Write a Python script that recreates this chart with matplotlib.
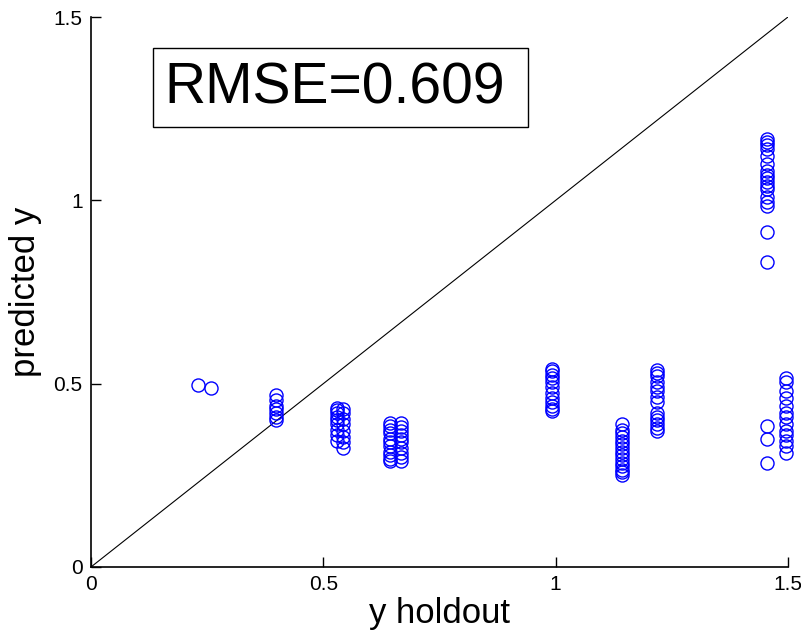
#!/usr/bin/env python3
"""Holdout scatter: predicted y vs y holdout, with identity line and RMSE box."""

import matplotlib

matplotlib.use("Agg")
import matplotlib.pyplot as plt
from matplotlib.patches import Rectangle

plt.rcParams["font.family"] = ["Liberation Sans", "DejaVu Sans"]

# holdout groups: (x value, predicted values)
x_group = [0.230, 0.258, 0.398, 0.530, 0.543, 0.643, 0.667,
           0.992, 1.143, 1.218, 1.455, 1.455, 1.496]
y_group = [
    [0.497],
    [0.489],
    [0.468, 0.455, 0.440, 0.430, 0.420, 0.410, 0.400],
    [0.435, 0.428, 0.420, 0.410, 0.400, 0.390, 0.375, 0.360, 0.345],
    [0.430, 0.420, 0.405, 0.390, 0.370, 0.355, 0.340, 0.325],
    [0.393, 0.385, 0.375, 0.365, 0.350, 0.340, 0.330, 0.315, 0.305, 0.295, 0.288],
    [0.393, 0.383, 0.370, 0.360, 0.350, 0.340, 0.325, 0.310, 0.300, 0.290],
    [0.540, 0.535, 0.525, 0.515, 0.505, 0.490, 0.475, 0.460, 0.450, 0.440, 0.430, 0.425],
    [0.390, 0.375, 0.365, 0.355, 0.345, 0.335, 0.325, 0.315, 0.305, 0.295,
     0.285, 0.275, 0.265, 0.258, 0.252],
    [0.538, 0.530, 0.520, 0.505, 0.490, 0.480, 0.465, 0.450, 0.420, 0.410,
     0.400, 0.390, 0.380, 0.372],
    [0.385, 0.350, 0.284],
    [1.167, 1.160, 1.150, 1.140, 1.120, 1.100, 1.080, 1.070, 1.060, 1.050,
     1.040, 1.030, 1.010, 0.995, 0.985, 0.915, 0.831],
    [0.515, 0.505, 0.480, 0.460, 0.440, 0.420, 0.410, 0.390, 0.370, 0.360,
     0.345, 0.330, 0.310],
]
rmse = 0.609
ticks = [0, 0.5, 1, 1.5]
tick_labels = ["0", "0.5", "1", "1.5"]

xs, ys = [], []
for xv, yv in zip(x_group, y_group):
    xs += [xv] * len(yv)
    ys += yv

fig = plt.figure(figsize=(8.01, 6.35), dpi=100)
ax = fig.add_axes([0.1136, 0.1071, 0.870, 0.866])

ax.plot([0, 1.5], [0, 1.5], color="black", lw=0.8)
ax.plot(xs, ys, "o", mfc="none", mec=(0, 0, 1), ms=9.4, mew=1.0, clip_on=False)

ax.set_xlim(0, 1.5)
ax.set_ylim(0, 1.5)
ax.set_xticks(ticks, tick_labels)
ax.set_yticks(ticks, tick_labels)
ax.tick_params(direction="in", length=7, width=1, labelsize=15, pad=6)
for side in ("top", "right"):
    ax.spines[side].set_visible(False)
for side in ("left", "bottom"):
    ax.spines[side].set_linewidth(1.2)

ax.set_xlabel("y holdout", fontsize=25, labelpad=2)
ax.set_ylabel("predicted y", fontsize=25, labelpad=8)

# RMSE annotation box (figure fraction)
fig.patches.append(Rectangle((153 / 801, 1 - 127 / 635), 375 / 801, 79 / 635,
                             transform=fig.transFigure, fill=False,
                             edgecolor="black", lw=1.0))
fig.text(164 / 801, 1 - 104 / 635, f"RMSE={rmse:.3f}", fontsize=41,
         ha="left", va="baseline")

fig.savefig("out.png", dpi=100)
